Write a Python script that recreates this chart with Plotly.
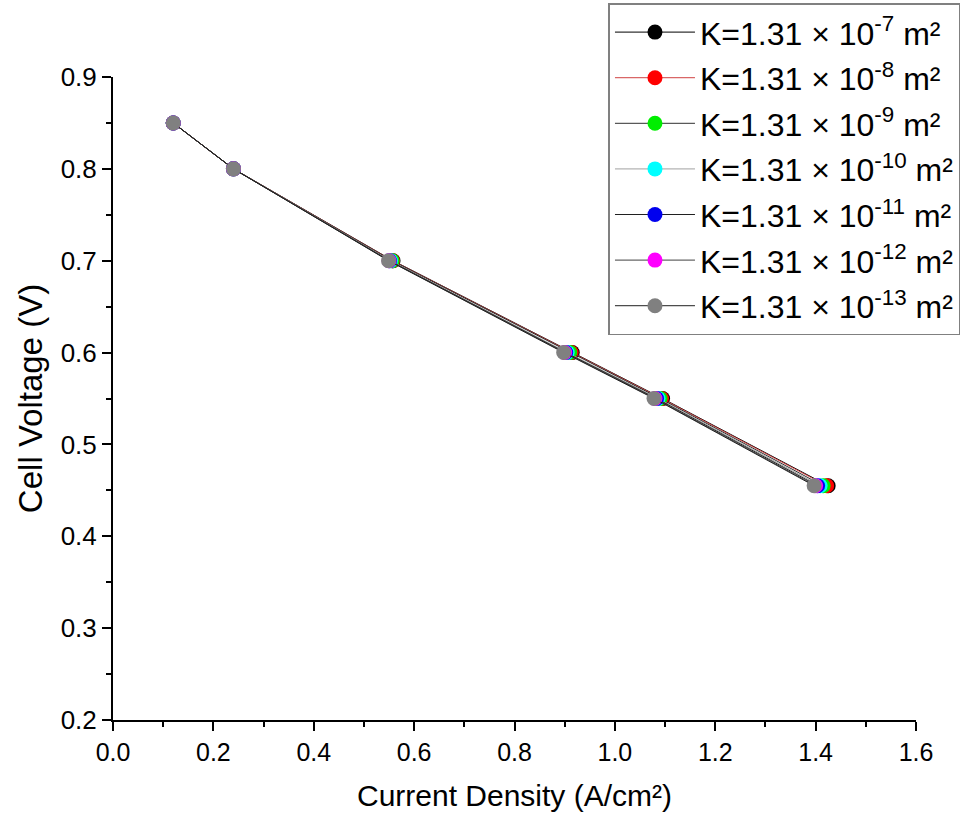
import plotly.graph_objects as go

# Cell voltage levels (V) shared by all permeability cases
voltage = [0.85, 0.80, 0.70, 0.60, 0.55, 0.455]

# Current density (A/cm²) for each permeability K
current_k7 = [0.12, 0.24, 0.558, 0.915, 1.095, 1.425]
current_k8 = [0.12, 0.24, 0.557, 0.913, 1.093, 1.422]
current_k9 = [0.12, 0.24, 0.556, 0.910, 1.090, 1.415]
current_k10 = [0.12, 0.24, 0.553, 0.905, 1.086, 1.409]
current_k11 = [0.12, 0.24, 0.551, 0.902, 1.083, 1.404]
current_k12 = [0.12, 0.24, 0.550, 0.900, 1.080, 1.400]
current_k13 = [0.12, 0.24, 0.549, 0.898, 1.078, 1.397]

exponents = [-7, -8, -9, -10, -11, -12, -13]
marker_colors = ["#000000", "#ff0000", "#00ee00", "#00ffff", "#0000ee", "#ff00ff", "#808080"]
line_colors = ["#000000", "#d04040", "#303030", "#a0a0a0", "#202020", "#404040", "#202020"]

series = [current_k7, current_k8, current_k9, current_k10,
          current_k11, current_k12, current_k13]

fig = go.Figure()
for i, (xs, exp) in enumerate(zip(series, exponents)):
    fig.add_trace(go.Scatter(
        x=xs, y=voltage,
        mode="lines+markers",
        name=f"K=1.31 × 10<sup>{exp}</sup> m²",
        legendgroup=f"g{i}",
        line=dict(color=line_colors[i], width=1),
        marker=dict(color=marker_colors[i], size=15, symbol="circle",
                    line=dict(width=0)),
    ))

sans = "Liberation Sans, Arial"

fig.update_layout(
    width=972, height=827,
    paper_bgcolor="white", plot_bgcolor="white",
    margin=dict(l=113, r=56, t=77, b=107, autoexpand=False),
    showlegend=True,
    legend=dict(
        xref="container", yref="container",
        x=0.626, y=0.996, xanchor="left", yanchor="top",
        bordercolor="#808080", borderwidth=1.5,
        bgcolor="white",
        font=dict(family=sans, size=32, color="black"),
        tracegroupgap=1,
        itemwidth=80,
    ),
    xaxis=dict(
        range=[0, 1.6], dtick=0.2, tick0=0, tickformat=".1f",
        showgrid=False, zeroline=False,
        showline=True, linecolor="black", linewidth=2,
        ticks="outside", ticklen=9, tickwidth=2, tickcolor="black",
        minor=dict(dtick=0.1, ticks="outside", ticklen=5, tickwidth=2, tickcolor="black"),
        tickfont=dict(family=sans, size=25, color="black"),
        title=dict(text="Current Density (A/cm²)", standoff=20,
                   font=dict(family=sans, size=30, color="black")),
    ),
    yaxis=dict(
        range=[0.2, 0.9], dtick=0.1, tick0=0.2, tickformat=".1f",
        showgrid=False, zeroline=False,
        showline=True, linecolor="black", linewidth=2,
        ticks="outside", ticklen=9, tickwidth=2, tickcolor="black",
        minor=dict(dtick=0.05, ticks="outside", ticklen=5, tickwidth=2, tickcolor="black"),
        tickfont=dict(family=sans, size=26, color="black"),
        title=dict(text="Cell Voltage (V)", standoff=8,
                   font=dict(family=sans, size=33, color="black")),
    ),
)

fig.write_html("out.html")
